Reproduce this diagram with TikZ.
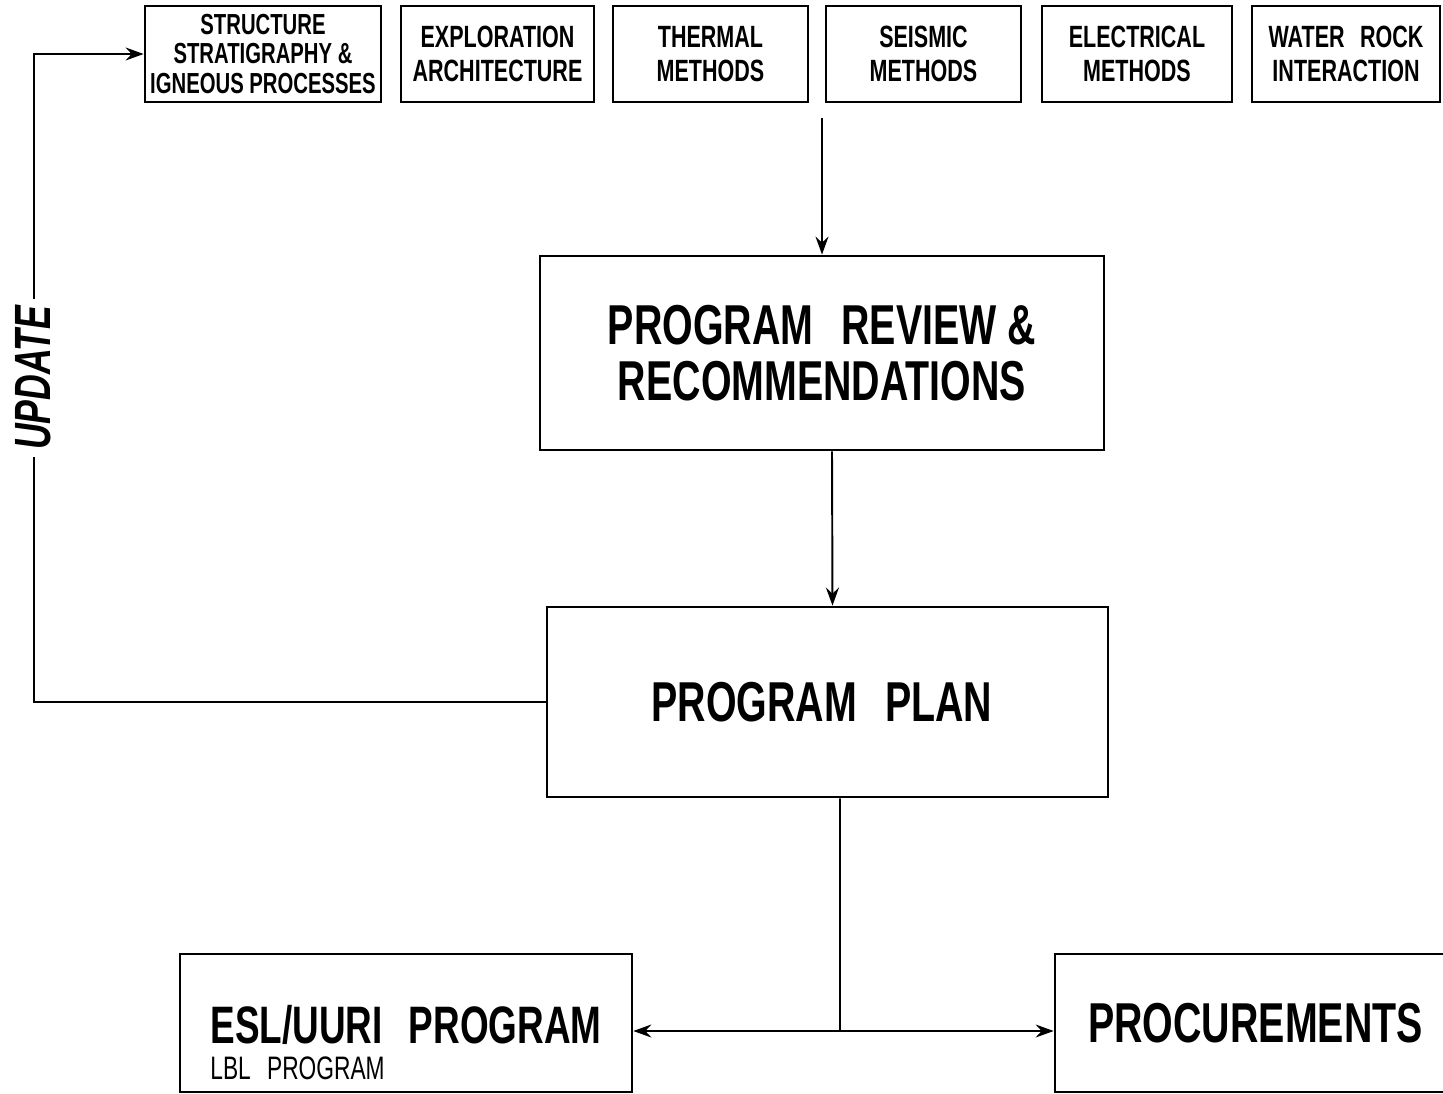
\documentclass[tikz,border=0pt]{standalone}
\usepackage{fontspec}
\newfontfamily\condfont[FakeStretch=0.7]{Liberation Sans}
\usepackage{tikz}
\usetikzlibrary{arrows.meta,calc}

\begin{document}
\begin{tikzpicture}[x=0.02cm,y=-0.02cm,->,>={Stealth[length=0.36cm,width=0.26cm,inset=0.12cm]},
      line width=1.1pt,
      box/.style={draw,rectangle,line width=1.6pt,align=center,inner sep=0pt},
      topbox/.style={box,minimum height=1.92cm,
        font=\condfont\bfseries\fontsize{17.5}{19}\selectfont},
      bigbox/.style={box,font=\condfont\bfseries\fontsize{32}{32}\selectfont}]
      \useasboundingbox (0,0) rectangle (1443,1094);

      \node[topbox,minimum width=4.72cm,font=\condfont\bfseries\fontsize{16.5}{17}\selectfont]
        (s1) at (263,54) { STRUCTURE\\STRATIGRAPHY \&\\IGNEOUS PROCESSES };
      \node[topbox,minimum width=3.86cm] (s2) at (497.5,54) { EXPLORATION\\ARCHITECTURE };
      \node[topbox,minimum width=3.9cm] (s3) at (710.5,54) { THERMAL\\METHODS };
      \node[topbox,minimum width=3.9cm] (s4) at (923.5,54) { SEISMIC\\METHODS };
      \node[topbox,minimum width=3.8cm] (s5) at (1137,54) { ELECTRICAL\\METHODS };
      \node[topbox,minimum width=3.76cm] (s6) at (1346,54) { WATER\enspace ROCK\\INTERACTION };

      \node[bigbox,minimum width=11.28cm,minimum height=3.88cm] (rev) at (822,353)
        { PROGRAM\enspace REVIEW \&\\RECOMMENDATIONS };
      \node[bigbox,minimum width=11.22cm,minimum height=3.8cm] (plan) at (827.5,702)
        { PROGRAM\enspace PLAN };

      \node[bigbox,align=left,minimum width=9.04cm,minimum height=2.76cm,
        font=\condfont\bfseries\fontsize{30}{30}\selectfont] (esl) at (406,1023)
        { \rule{0pt}{44pt}ESL/UURI\enspace PROGRAM\\[-10pt]
          {\mdseries\fontsize{18.5}{20}\selectfont LBL\enspace PROGRAM} };
      \node[bigbox,minimum width=8.24cm,minimum height=2.76cm] (proc) at (1261,1023)
        { PROCUREMENTS };

      \coordinate (in) at (822,118);
      \coordinate (j) at (840,1031);

      \path
      (in) edge (rev.north)
      ([xshift=0.2cm]rev.south) edge ([xshift=0.1cm]plan.north)
      (j) edge (esl.east |- j)
      (j) edge (proc.west |- j)
      ;

      \draw[-] ([xshift=0.25cm]plan.south) -- (j);
      \draw (plan.west) -| ($(s1.west)+(-110,0)$)
        node[pos=0.75,fill=white,rotate=90,inner sep=4pt,
          font=\condfont\bfseries\itshape\fontsize{29}{30}\selectfont] (upd) { UPDATE }
        -- (s1.west);

      \end{tikzpicture}
\end{document}
